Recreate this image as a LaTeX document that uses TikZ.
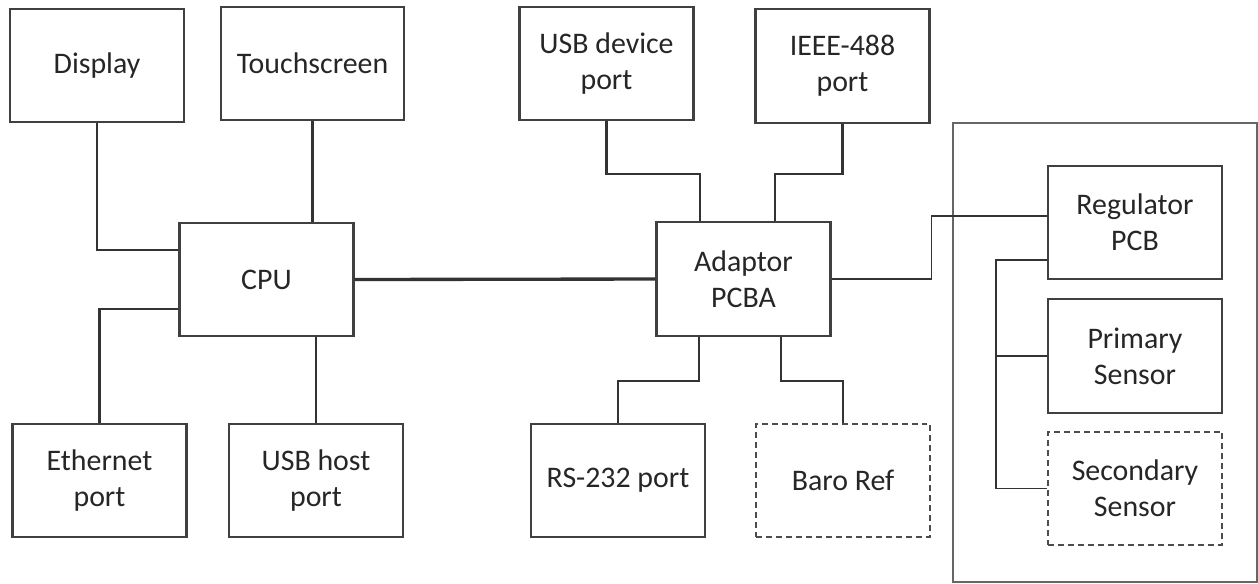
\documentclass[tikz,border=0pt]{standalone}
\usepackage{fontspec}
\setmainfont{Carlito}
\usepackage{tikz}

\begin{document}
\begin{tikzpicture}[x=0.02cm, y=-0.02cm,
	blk/.style={draw=black!75, line width=1.2pt, rectangle, minimum width=3.48cm, minimum height=2.27cm, inner sep=0pt, align=center, text=black!85, font=\fontsize{17}{20.5}\selectfont},
	optblk/.style={blk, draw=black!70, line width=0.9pt, dash pattern=on 0.12cm off 0.08cm},
	wire/.style={draw=black!80, line width=1.3pt}]
	\useasboundingbox (0,0) rectangle (1258,583);
	% CPU side
	\node[blk] (disp) at (97,65.5) {Display};
	\node[blk, minimum width=3.66cm] (touch) at (312.5,63.5) {Touchscreen};
	\node[blk] (cpu) at (266.5,279.5) {CPU};
	\node[blk] (eth) at (99.5,480.5) {Ethernet\\port};
	\node[blk] (usbh) at (316,480.5) {USB host\\port};
	% adaptor side
	\node[blk] (usbd) at (606.5,63.5) {USB device\\port};
	\node[blk] (ieee) at (842.5,66) {IEEE-488\\port};
	\node[blk] (adapt) at (743.5,279) {Adaptor\\PCBA};
	\node[blk] (rs) at (618,480.5) {RS-232 port};
	\node[optblk] (baro) at (843,480.5) {Baro Ref};
	% module
	\draw[black!60, line width=1pt] (953,123) rectangle (1257,582);
	\node[blk] (reg) at (1135,222.5) {Regulator\\PCB};
	\node[blk] (prim) at (1135,356) {Primary\\Sensor};
	\node[optblk] (sec) at (1135,488.5) {Secondary\\Sensor};

	\draw[wire] (disp.south) |- ([yshift=0.59cm]cpu.west);
	\draw[wire] (touch.south) -- (touch.south |- cpu.north);
	\draw[wire] ([yshift=-0.59cm]cpu.west) -| (eth.north);
	\draw[wire] (usbh.north) -- (usbh.north |- cpu.south);
	\draw[wire, line width=1.9pt] (cpu.east) -- (adapt.west);
	\draw[wire] (usbd.south) -- ++(0,53) -| ([xshift=-0.87cm]adapt.north);
	\draw[wire] (ieee.south) -- ++(0,50) -| ([xshift=0.63cm]adapt.north);
	\draw[wire] ([xshift=-0.89cm]adapt.south) -- ++(0,44) -| (rs.north);
	\draw[wire] ([xshift=0.75cm]adapt.south) -- ++(0,44) -| (baro.north);
	\draw[wire, line width=1pt] (adapt.east) -- ++(100,0) |- ([yshift=0.13cm]reg.west);
	\draw[wire, line width=1pt] ([yshift=-0.75cm]reg.west) -- ++(-51,0) coordinate (bustop) |- (sec.west);
	\draw[wire, line width=1pt] (prim.west) -- (prim.west -| bustop);
\end{tikzpicture}
\end{document}
